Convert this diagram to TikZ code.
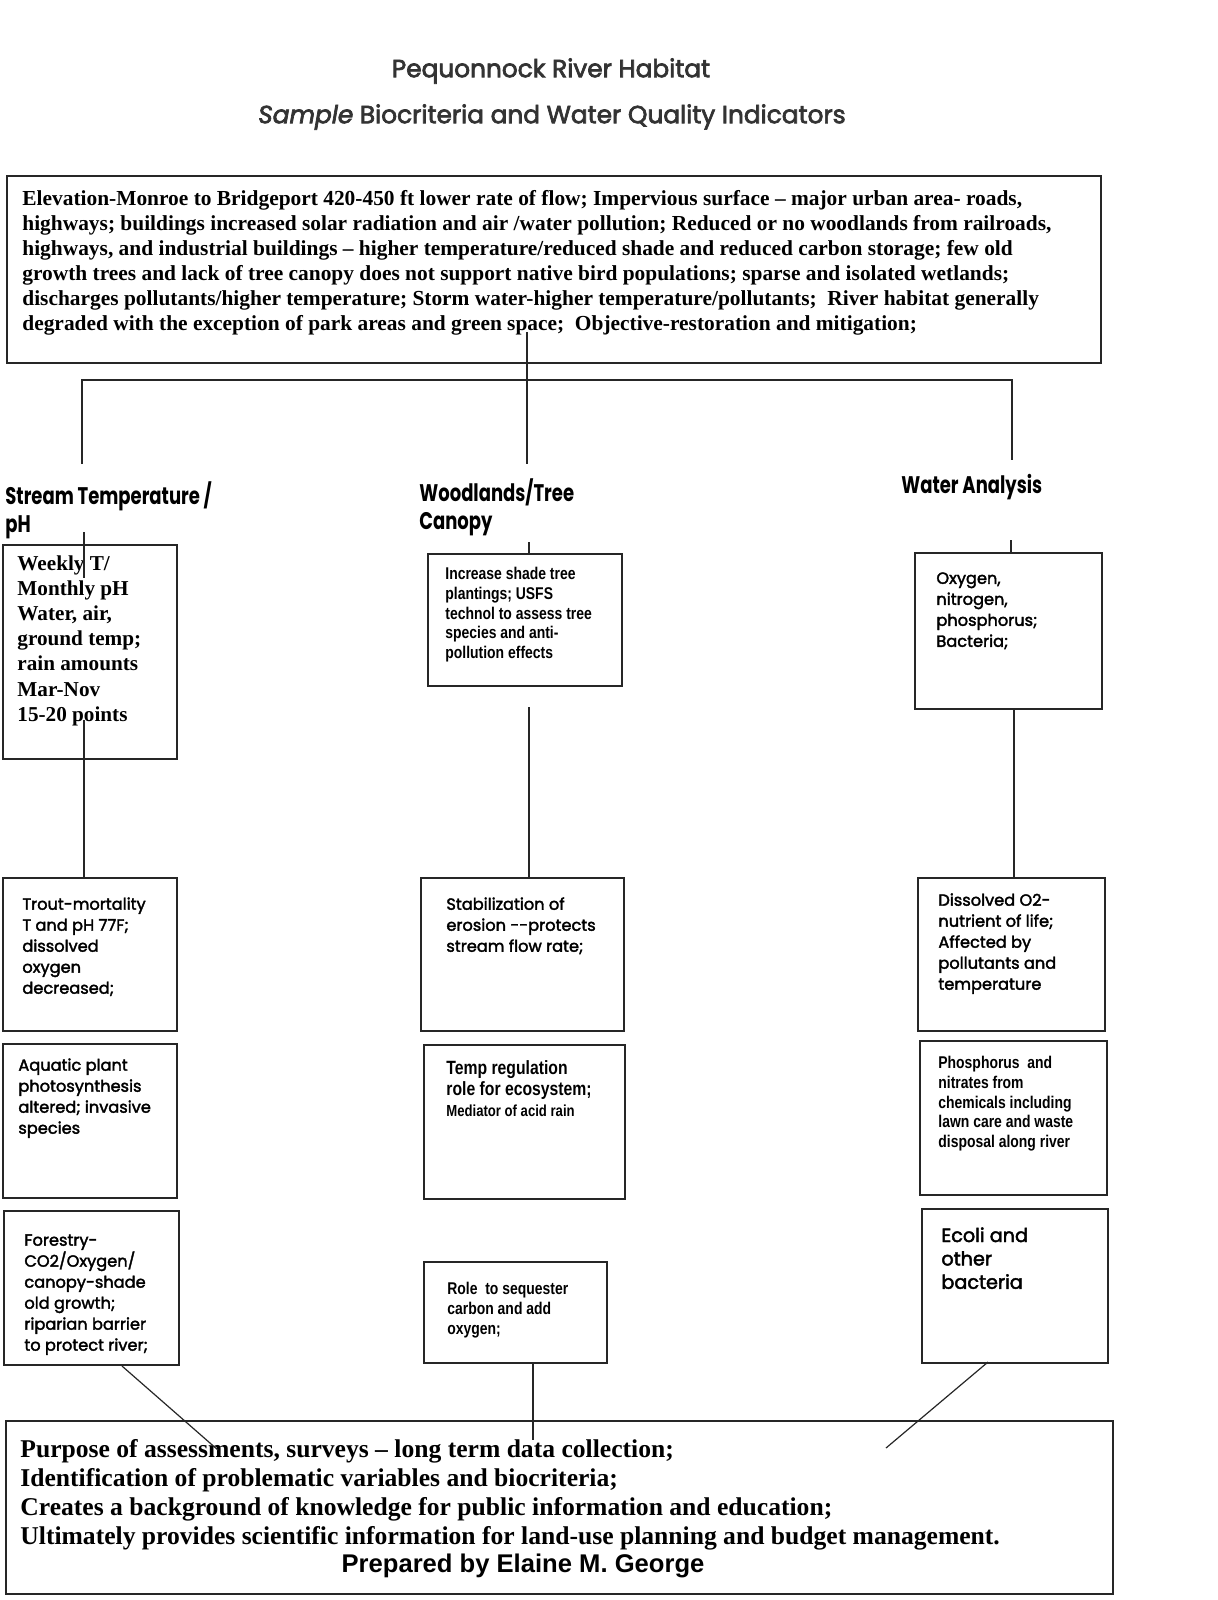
\documentclass[tikz,border=0pt]{standalone}
\usepackage{fontspec}
\setmainfont{Liberation Serif}
\newfontfamily\gothic[FakeBold=2.2]{Poppins}
\newfontfamily\gothicmed[FakeBold=2.8]{Poppins}
\newfontfamily\gothicnarrow[FakeStretch=0.75]{Poppins}
\newfontfamily\narrowsans[FakeStretch=0.82]{Liberation Sans}
\newfontfamily\arialfont{Liberation Sans}
\usetikzlibrary{positioning}

\begin{document}
\begin{tikzpicture}[
  x=0.5pt, y=-0.5pt,
  box/.style       = {rectangle, draw=black!85, line width=1pt,
                      anchor=north west, inner sep=0pt},
  txt/.style       = {anchor=north west, inner sep=0pt, align=left},
  serifbig/.style  = {txt, font=\bfseries\fontsize{10.6}{12.6}\selectfont},
  gothtxt/.style   = {txt, font=\gothic\fontsize{8.1}{10.5}\selectfont},
  narrowtxt/.style = {txt, font=\narrowsans\bfseries\fontsize{8.5}{9.85}\selectfont},
  heading/.style   = {txt, font=\gothicnarrow\bfseries\fontsize{12}{14}\selectfont},
  titlefont/.style = {text=black!80, font=\gothicmed\fontsize{12.4}{14}\selectfont},
  link/.style      = {line width=0.6pt, black!85},
]
\useasboundingbox (0,0) rectangle (1218,1600);

%% -- Title ---------------------------------------------------------------
\node[titlefont] (title)    at (551,71)  {Pequonnock River Habitat};
\node[titlefont] (subtitle) at (552,117) {\textit{Sample} Biocriteria and Water Quality Indicators};

%% -- Top box ---------------------------------------------------------------
\node[box, minimum width=547pt, minimum height=93.5pt] (elev) at (6,175) {};
\node[txt, font=\bfseries\fontsize{10.7}{12.5}\selectfont,
      below right=7.5pt and 8pt of elev.north west] (elevText)
  {Elevation-Monroe to Bridgeport 420-450 ft lower rate of flow; Impervious surface -- major urban area- roads,\\
   highways; buildings increased solar radiation and air /water pollution; Reduced or no woodlands from railroads,\\
   highways, and industrial buildings -- higher temperature/reduced shade and reduced carbon storage; few old\\
   growth trees and lack of tree canopy does not support native bird populations; sparse and isolated wetlands;\\
   discharges pollutants/higher temperature; Storm water-higher temperature/pollutants;\ \ River habitat generally\\
   degraded with the exception of park areas and green space;\ \ Objective-restoration and mitigation;};

%% -- Column headings -------------------------------------------------------
\node[heading] (hTemp)  at (5,481)   {Stream Temperature /\\pH};
\node[heading] (hWood)  at (419,478) {Woodlands/Tree\\Canopy};
\node[heading] (hWater) at (901,474) {Water Analysis};

%% -- Stream temperature column --------------------------------------------
\node[box, minimum width=87pt, minimum height=107pt] (tWeekly)   at (2,544)  {};
\node[box, minimum width=87pt, minimum height=76.5pt] (tTrout)   at (2,877)  {};
\node[box, minimum width=87pt, minimum height=77pt] (tAquatic)   at (2,1043) {};
\node[box, minimum width=87.5pt, minimum height=77pt] (tForest)  at (3,1210) {};

\node[serifbig, below right=5.5pt and 7.5pt of tWeekly.north west] (tWeeklyText)
  {Weekly T/\\Monthly pH\\Water, air,\\ground temp;\\rain amounts\\Mar-Nov\\15-20 points};
\node[gothtxt, below right=10pt and 10pt of tTrout.north west] (tTroutText)
  {Trout-mortality\\T and pH 77F;\\dissolved\\oxygen\\decreased;};
\node[gothtxt, below right=7.5pt and 8pt of tAquatic.north west] (tAquaticText)
  {Aquatic plant\\photosynthesis\\altered; invasive\\species};
\node[gothtxt, below right=12pt and 10.5pt of tForest.north west] (tForestText)
  {Forestry-\\CO2/Oxygen/\\canopy-shade\\old growth;\\riparian barrier\\to protect river;};

%% -- Woodlands column ------------------------------------------------------
\node[box, minimum width=97pt, minimum height=66pt] (wShade)       at (427,553)  {};
\node[box, minimum width=101.5pt, minimum height=76.5pt] (wErosion) at (420,877) {};
\node[box, minimum width=100.5pt, minimum height=77pt] (wTemp)     at (423,1044) {};
\node[box, minimum width=91.5pt, minimum height=50.5pt] (wCarbon)  at (423,1261) {};

\node[narrowtxt, below right=7pt and 9pt of wShade.north west] (wShadeText)
  {Increase shade tree\\plantings; USFS\\technol to assess tree\\species and anti-\\pollution effects};
\node[gothtxt, below right=10pt and 13pt of wErosion.north west] (wErosionText)
  {Stabilization of\\erosion --protects\\stream flow rate;};
\node[narrowtxt, font=\narrowsans\bfseries\fontsize{9.6}{10.5}\selectfont,
      below right=8pt and 11.5pt of wTemp.north west] (wTempText)
  {Temp regulation\\role for ecosystem;\\{\fontsize{8}{10.5}\selectfont Mediator of acid rain}};
\node[narrowtxt, below right=10.5pt and 12pt of wCarbon.north west] (wCarbonText)
  {Role\ \ to sequester\\carbon and add\\oxygen;};

%% -- Water analysis column -------------------------------------------------
\node[box, minimum width=93.5pt, minimum height=78pt] (aNutrients)   at (914,552)  {};
\node[box, minimum width=93.5pt, minimum height=76.5pt] (aDissolved) at (917,877)  {};
\node[box, minimum width=93.5pt, minimum height=77pt] (aPhos)        at (919,1040) {};
\node[box, minimum width=93pt, minimum height=77pt] (aEcoli)         at (921,1208) {};

\node[gothtxt, below right=10pt and 11pt of aNutrients.north west] (aNutrientsText)
  {Oxygen,\\nitrogen,\\phosphorus;\\Bacteria;};
\node[gothtxt, below right=8pt and 10.5pt of aDissolved.north west] (aDissolvedText)
  {Dissolved O2-\\nutrient of life;\\Affected by\\pollutants and\\temperature};
\node[narrowtxt, below right=8pt and 9.5pt of aPhos.north west] (aPhosText)
  {Phosphorus\ \ and\\nitrates from\\chemicals including\\lawn care and waste\\disposal along river};
\node[gothtxt, font=\gothic\fontsize{9.6}{11.7}\selectfont,
      below right=9.5pt and 10pt of aEcoli.north west] (aEcoliText)
  {Ecoli and\\other\\bacteria};

%% -- Bottom box ------------------------------------------------------------
\node[box, minimum width=553.5pt, minimum height=86.5pt] (purpose) at (5,1420) {};
\node[txt, font=\bfseries\fontsize{12.8}{14.5}\selectfont,
      below right=9.5pt and 7.5pt of purpose.north west] (purposeText)
  {Purpose of assessments, surveys -- long term data collection;\\
   Identification of problematic variables and biocriteria;\\
   Creates a background of knowledge for public information and education;\\
   Ultimately provides scientific information for land-use planning and budget management.};
\node[font=\arialfont\bfseries\fontsize{12.8}{14}\selectfont] (prepared) at (523,1566)
  {Prepared by Elaine M. George};

%% -- Connectors ------------------------------------------------------------
\coordinate (hub)       at (527,332);
\coordinate (dropC)     at (527,464);
\coordinate (dropL)     at (82,464);
\coordinate (barR)      at (1012,380);
\coordinate (dropR)     at (1012,460);
\coordinate (tempIn)    at (84,532);
\coordinate (tempEnd)   at (84,578);
\coordinate (tempMid)   at (84,720);
\coordinate (woodIn)    at (529,542);
\coordinate (woodMid)   at (529,707);
\coordinate (waterIn)   at (1011,540);
\coordinate (waterMid)  at (1014,708);
\coordinate (forestOut) at (122,1366);
\coordinate (purposeL)  at (218,1450);
\coordinate (carbonOut) at (533,1362);
\coordinate (purposeC)  at (533,1440);
\coordinate (ecoliOut)  at (988,1362);
\coordinate (purposeR)  at (886,1448);

\draw[link] (hub) -- (dropC);
\draw[link] (dropL) |- (barR) -- (dropR);
\draw[link] (tempIn) -- (tempEnd);
\draw[link] (tempMid) -- (tTrout.north -| tempMid);
\draw[link] (woodIn) -- (wShade.north -| woodIn);
\draw[link] (woodMid) -- (wErosion.north -| woodMid);
\draw[link] (waterIn) -- (aNutrients.north -| waterIn);
\draw[link] (waterMid) -- (aDissolved.north -| waterMid);
\draw[link] (forestOut) -- (purposeL);
\draw[link] (carbonOut) -- (purposeC);
\draw[link] (ecoliOut) -- (purposeR);

\end{tikzpicture}
\end{document}
